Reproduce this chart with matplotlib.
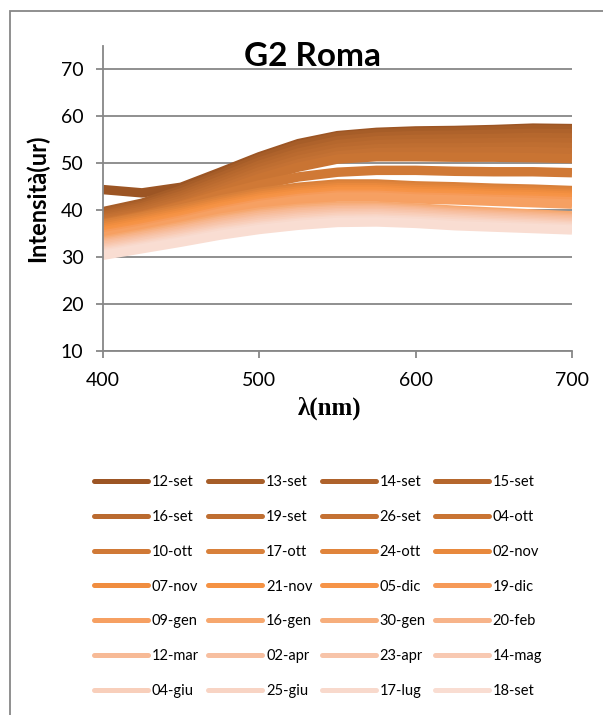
import numpy as np
import matplotlib.pyplot as plt
from matplotlib.lines import Line2D
from matplotlib.patches import Rectangle

W, H = 603, 715
plt.rc('font', family='Lato')

wl = [400, 425, 450, 475, 500, 525, 550, 575, 600, 625, 650, 675, 700]

dates = ['12-set', '13-set', '14-set', '15-set', '16-set', '19-set', '26-set',
         '04-ott', '10-ott', '17-ott', '24-ott', '02-nov', '07-nov', '21-nov',
         '05-dic', '19-dic', '09-gen', '16-gen', '30-gen', '20-feb', '12-mar',
         '02-apr', '23-apr', '14-mag', '04-giu', '25-giu', '17-lug', '18-set']

colors = ['#9C5524', '#A65D28', '#AE622B', '#B5672D', '#BA6A2F', '#BF6E31',
          '#C47133', '#C97433', '#D07936', '#D8803A', '#E0843B', '#E8893D',
          '#F08D3F', '#F59243', '#F69448', '#F69A58', '#F6A062', '#F6A76E',
          '#F6AE7C', '#F7B48A', '#F7BA96', '#F7BFA0', '#F7C4A9', '#F8C9B2',
          '#F8CFBB', '#F8D4C4', '#F8D9CC', '#F9DDD2']

values = [
    [44.4, 43.7, 44.9, 48.1, 51.4, 54.2, 55.9, 56.6, 56.9, 57.0, 57.2, 57.5, 57.4],
    [39.7, 41.5, 44.3, 47.6, 51.0, 53.8, 55.6, 56.3, 56.6, 56.7, 56.9, 57.2, 57.1],
    [39.3, 41.0, 43.7, 47.0, 50.3, 53.0, 54.8, 55.6, 55.9, 56.0, 56.2, 56.4, 56.3],
    [38.9, 40.6, 43.1, 46.3, 49.6, 52.2, 54.0, 54.8, 55.1, 55.2, 55.3, 55.5, 55.4],
    [38.6, 40.2, 42.6, 45.7, 48.9, 51.5, 53.2, 54.0, 54.2, 54.3, 54.4, 54.5, 54.4],
    [38.2, 39.8, 42.1, 45.1, 48.2, 50.7, 52.4, 53.1, 53.3, 53.3, 53.4, 53.5, 53.4],
    [37.9, 39.4, 41.6, 44.5, 47.5, 49.9, 51.6, 52.3, 52.4, 52.4, 52.5, 52.5, 52.3],
    [37.5, 39.0, 41.1, 43.9, 46.8, 49.2, 50.9, 51.4, 51.4, 51.3, 51.3, 51.2, 51.0],
    [37.2, 38.8, 40.9, 43.3, 45.4, 47.1, 48.1, 48.5, 48.5, 48.3, 48.2, 48.2, 48.0],
    [37.0, 38.6, 40.3, 42.2, 43.8, 44.9, 45.6, 45.6, 45.2, 45.0, 44.7, 44.5, 44.2],
    [36.6, 38.2, 39.9, 41.8, 43.4, 44.5, 45.2, 45.2, 44.8, 44.6, 44.3, 44.1, 43.8],
    [36.2, 37.8, 39.5, 41.4, 43.0, 44.1, 44.8, 44.8, 44.4, 44.2, 43.9, 43.7, 43.4],
    [35.8, 37.4, 39.1, 41.0, 42.6, 43.7, 44.4, 44.4, 44.0, 43.8, 43.5, 43.3, 43.0],
    [35.4, 37.0, 38.7, 40.6, 42.2, 43.3, 44.0, 44.0, 43.6, 43.4, 43.1, 42.9, 42.6],
    [35.0, 36.6, 38.3, 40.2, 41.8, 42.9, 43.6, 43.6, 43.2, 43.0, 42.7, 42.5, 42.2],
    [34.7, 36.2, 37.9, 39.8, 41.4, 42.5, 43.2, 43.2, 42.8, 42.6, 42.3, 42.1, 41.8],
    [34.3, 35.8, 37.5, 39.4, 41.0, 42.1, 42.8, 42.8, 42.4, 42.2, 41.9, 41.6, 41.3],
    [33.5, 35.0, 36.6, 38.3, 39.6, 40.4, 40.9, 40.9, 40.5, 40.0, 39.6, 39.2, 38.8],
    [33.2, 34.7, 36.3, 37.9, 39.2, 40.1, 40.6, 40.6, 40.2, 39.7, 39.3, 38.9, 38.5],
    [32.9, 34.4, 35.9, 37.6, 38.9, 39.7, 40.2, 40.3, 39.9, 39.4, 39.0, 38.6, 38.2],
    [32.6, 34.0, 35.6, 37.2, 38.5, 39.4, 39.9, 40.0, 39.6, 39.1, 38.7, 38.3, 37.9],
    [32.3, 33.7, 35.2, 36.8, 38.1, 39.0, 39.5, 39.6, 39.3, 38.8, 38.4, 38.0, 37.6],
    [31.9, 33.4, 34.9, 36.5, 37.8, 38.6, 39.2, 39.3, 39.0, 38.5, 38.1, 37.7, 37.3],
    [31.6, 33.1, 34.6, 36.1, 37.4, 38.3, 38.8, 39.0, 38.6, 38.2, 37.8, 37.4, 37.0],
    [31.3, 32.7, 34.2, 35.8, 37.0, 37.9, 38.5, 38.6, 38.3, 37.9, 37.4, 37.1, 36.7],
    [31.0, 32.4, 33.9, 35.4, 36.6, 37.5, 38.1, 38.2, 37.9, 37.5, 37.1, 36.8, 36.4],
    [30.7, 32.1, 33.5, 35.1, 36.3, 37.2, 37.8, 37.9, 37.6, 37.1, 36.8, 36.4, 36.1],
    [30.4, 31.8, 33.2, 34.7, 35.9, 36.8, 37.4, 37.5, 37.2, 36.7, 36.4, 36.1, 35.8],
]

yticks = [10, 20, 30, 40, 50, 60, 70]
xticks = [400, 500, 600, 700]

grey = '#878787'

fig = plt.figure(figsize=(W/100, H/100), dpi=100)
ax = fig.add_axes([103/W, 1-351/H, 469/W, 305/H])

for vals, c in zip(values, colors):
    ax.plot(wl, vals, color=c, lw=6.8, solid_capstyle='butt', solid_joinstyle='round')

ax.set_xlim(400, 700)
ax.set_ylim(10, 75)
ax.set_xticks(xticks)
ax.set_yticks(yticks)
ax.yaxis.grid(True, color=grey, lw=1.3)
ax.set_axisbelow(True)
for s in ['top', 'right']:
    ax.spines[s].set_visible(False)
for s in ['left', 'bottom']:
    ax.spines[s].set_color(grey)
    ax.spines[s].set_linewidth(1.3)
ax.tick_params(axis='both', colors=grey, length=5, width=1.3, labelsize=14,
               labelcolor='black')
ax.tick_params(axis='y', pad=9)
ax.tick_params(axis='x', pad=10)

fig.text(312/W, 1-66/H, 'G2 Roma', ha='center', va='baseline',
         fontsize=24, fontweight='bold')
fig.text(37/W, 1-198/H, 'Intensità(ur)', ha='center', va='center',
         rotation=90, fontsize=17, fontweight='bold')
fig.text(330/W, 1-408/H, 'λ(nm)', ha='center', va='center', fontsize=18,
         fontweight='bold', family='Liberation Serif')

# legend, filled row by row like Excel
handles = [Line2D([], [], color=c, lw=3.6, solid_capstyle='round') for c in colors]
order = [i for col in range(4) for i in range(col, len(dates), 4)]
fig.legend([handles[i] for i in order], [dates[i] for i in order], ncol=4,
           loc='upper left', bbox_to_anchor=(94/W, 1-475/H), frameon=False,
           fontsize=10.5, handlelength=3.7, handletextpad=0.27,
           columnspacing=0.63, labelspacing=1.43, borderpad=0, borderaxespad=0)

fig.add_artist(Rectangle((10/W, -0.1), 1.2, 1.1 - 11/H, transform=fig.transFigure,
                         fill=False, edgecolor=grey, lw=1.3))

fig.savefig('out.png', dpi=100)
